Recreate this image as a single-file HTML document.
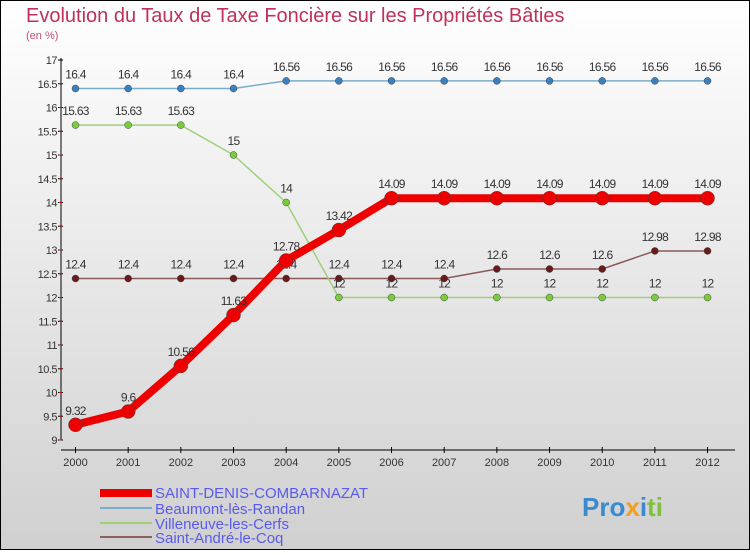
<!DOCTYPE html>
<html><head><meta charset="utf-8"><style>
html,body{margin:0;padding:0}
body{width:750px;height:550px;overflow:hidden;font-family:"Liberation Sans",sans-serif}
svg text{font-family:"Liberation Sans",sans-serif}
</style></head><body>
<svg id="c" width="750" height="550">
<defs><linearGradient id="bg" x1="0" y1="0" x2="0" y2="1"><stop offset="0" stop-color="#ffffff"/><stop offset="1" stop-color="#d0d0d0"/></linearGradient></defs>
<rect x="0.5" y="0.5" width="749" height="549" fill="url(#bg)" stroke="#000"/>
<text x="26" y="22" font-size="20" fill="#c0305a">Evolution du Taux de Taxe Foncière sur les Propriétés Bâties</text>
<text x="26" y="39" font-size="11" fill="#c0507a">(en %)</text>
<g id="axes"></g><g id="series"></g>
<g>
<rect x="100" y="489" width="52" height="8" fill="#e00"/>
<text x="155" y="498" font-size="15" fill="#5a5aee">SAINT-DENIS-COMBARNAZAT</text>
<rect x="100" y="507" width="52" height="2" fill="#7aaccc"/>
<text x="155" y="514" font-size="15" fill="#5a5aee">Beaumont-lès-Randan</text>
<rect x="100" y="522" width="52" height="2" fill="#9ed07a"/>
<text x="155" y="529" font-size="15" fill="#5a5aee">Villeneuve-les-Cerfs</text>
<rect x="100" y="536" width="52" height="2" fill="#8a6060"/>
<text x="155" y="543" font-size="15" fill="#5a5aee">Saint-André-le-Coq</text>
</g>
<text x="582" y="516" font-size="26" font-weight="bold"><tspan fill="#3a8ad0">Pro</tspan><tspan fill="#f0a020">x</tspan><tspan fill="#3a8ad0">i</tspan><tspan fill="#80c040">ti</tspan></text>
</svg>
<script>
const years=[2000,2001,2002,2003,2004,2005,2006,2007,2008,2009,2010,2011,2012];
const yTicks=[9,9.5,10,10.5,11,11.5,12,12.5,13,13.5,14,14.5,15,15.5,16,16.5,17];
const sdc=[9.32,9.6,10.56,11.63,12.78,13.42,14.09,14.09,14.09,14.09,14.09,14.09,14.09];
const beau=[16.4,16.4,16.4,16.4,16.56,16.56,16.56,16.56,16.56,16.56,16.56,16.56,16.56];
const vill=[15.63,15.63,15.63,15,14,12,12,12,12,12,12,12,12];
const sacq=[12.4,12.4,12.4,12.4,12.4,12.4,12.4,12.4,12.6,12.6,12.6,12.98,12.98];
const NS="http://www.w3.org/2000/svg";
const x=i=>75.5+i*52.67, y=v=>60+(17-v)*47.5;
function mk(t,a,p){const e=document.createElementNS(NS,t);for(const k in a)e.setAttribute(k,a[k]);p.appendChild(e);return e;}
const ax=document.getElementById('axes');
let l=mk('line',{x1:61,y1:58,x2:61,y2:440,stroke:'#000'},ax);


l=mk('line',{x1:61,y1:450,x2:735,y2:450,stroke:'#000'},ax);


yTicks.forEach(v=>{
  mk('line',{x1:58,y1:y(v),x2:63,y2:y(v),stroke:'#000'},ax);
  mk('line',{x1:59,y1:y(v)+23.75,x2:62,y2:y(v)+23.75,stroke:v>9?'#e00':'none'},ax);
  const t=mk('text',{x:57,y:y(v)+4,'font-size':11,'text-anchor':'end',fill:'#333','letter-spacing':'-0.5'},ax);
  t.textContent=String(v);
  
  
});
years.forEach((yr,i)=>{
  mk('line',{x1:x(i),y1:447,x2:x(i),y2:453,stroke:'#000'},ax);
  const t=mk('text',{x:x(i),y:466,'font-size':11,'text-anchor':'middle',fill:'#333'},ax);
  t.textContent=yr;
  
  
});
const sg=document.getElementById('series');
function series(vals,color,dot,w,r,name){
  const g=mk('g',{},sg);
  
  
  mk('polyline',{points:vals.map((v,i)=>x(i)+','+y(v)).join(' '),fill:'none',stroke:color,'stroke-width':w,'stroke-linejoin':'round'},g);
  vals.forEach((v,i)=>{
    const c=mk('circle',{cx:x(i),cy:y(v),r:r,fill:dot,stroke:'#444','stroke-width':0.5},g);
    
    
    const t=mk('text',{x:x(i),y:y(v)-10,'font-size':12,'text-anchor':'middle',fill:'#333','letter-spacing':'-0.7'},g);
    t.textContent=String(v);
    
    
  });
}
series(sacq,'#8a5a5a','#6a1a1a',1.5,3.5,'saint-andre-line');
series(vill,'#9ed07a','#7acc3a',1.5,3.5,'villeneuve-line');
series(beau,'#7aaccc','#3a80c0',1.5,3.5,'beaumont-line');
series(sdc,'#ee0000','#ee0000',8,7,'saint-denis-line');
</script>
</body></html>
